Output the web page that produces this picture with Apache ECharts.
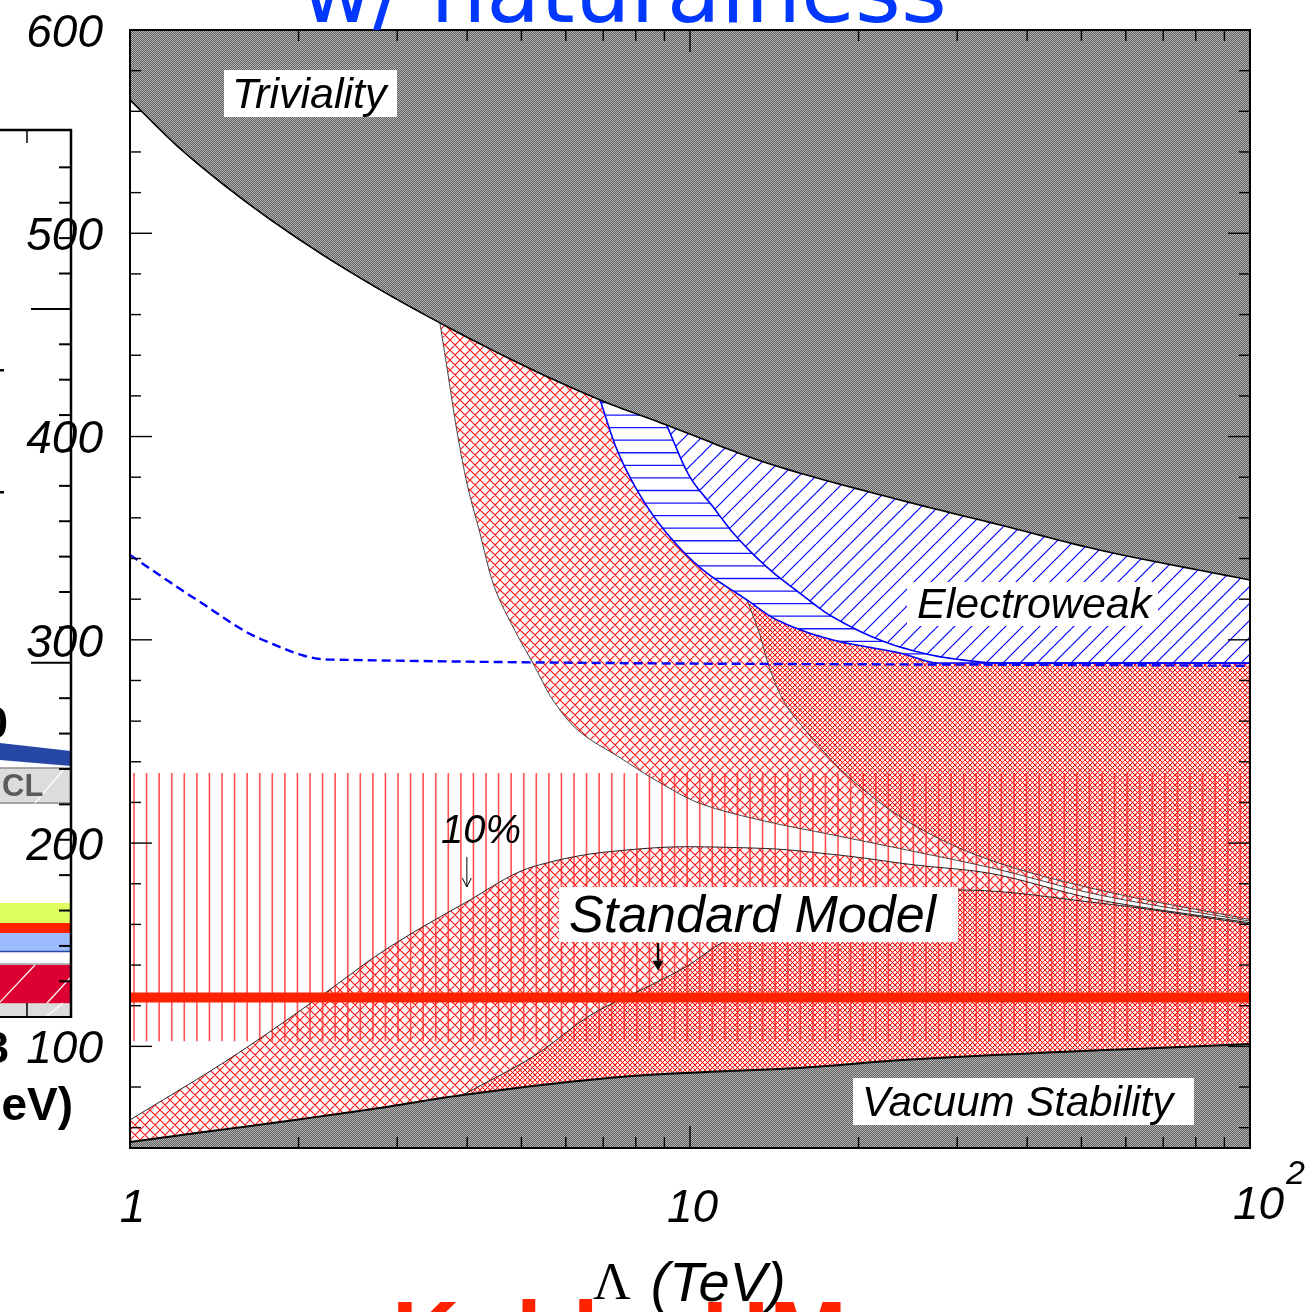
<!DOCTYPE html>
<html>
<head>
<meta charset="utf-8">
<title>Higgs mass bounds vs cutoff scale</title>
<script src="https://cdn.jsdelivr.net/npm/echarts@6.0.0/dist/echarts.min.js"></script>
<style>
  html, body { margin: 0; padding: 0; background: #ffffff; }
  #chart { width: 1310px; height: 1312px; }
</style>
</head>
<body>
<div id="chart"></div>
<script>
// ---- Region boundaries: cutoff scale Λ (TeV) vs Higgs mass (GeV) ----
const trivialityCurve = [[1,565.6],[1.254,539.5],[2.012,496.7],[3.576,455.9],[6.91,418.0],[9.08,405.7],[13.72,387.0],[23.7,368.8],[35.8,356.5],[53.8,344.2],[100,329.4]];
const vacuumCurve = [[1,53.0],[2.276,66.2],[2.792,69.7],[3.93,76.1],[8.38,85.9],[15.7,89.4],[24.0,93.3],[100,101.2]];
const ewInnerCurve = [[6.91,418.0],[7.41,393.4],[8.24,368.8],[9.08,352.6],[10.4,335.8],[12.64,319.6],[14.3,309.8],[18.0,299.9],[23.7,293.5],[27.9,288.6],[100,288.6]];
const ewOuterCurve = [[9.08,405.7],[10.0,380.1],[11.0,365.3],[11.94,352.6],[13.72,335.8],[15.7,323.0],[18.0,311.2],[23.7,296.5],[29.0,291.0],[35.8,288.6],[100,288.6]];
const ewDashedCurve = [[1,341.7],[1.317,319.6],[1.727,299.9],[2.25,290.3],[100,287.2]];
const aLowerCurve = [[3.576,455.9],[3.68,434.2],[3.84,401.8],[3.995,377.2],[4.215,352.6],[4.447,328.0],[4.83,306.3],[5.24,288.6],[5.69,270.4],[6.28,256.0],[7.5,242.0],[8.8,230.0],[10.4,219.6],[13.5,211.0],[18.0,204.0],[25.0,196.0],[34.3,188.0],[53.8,174.5],[100,161.6]];
const bLeftCurve = [[12.64,319.6],[13.29,303.4],[13.85,286.6],[14.66,270.4],[16.05,255.6],[19.47,231.0],[25.4,208.0],[34.3,191.7],[53.8,176.9],[100,162.4]];
const cTopCurve = [[1,63.8],[1.508,94.0],[2.276,128.0],[2.795,145.8],[3.953,170.4],[5.245,188.4],[7.185,195.8],[9.845,198.2],[13.49,197.4],[18.47,194.1],[25.3,189.2],[32.96,185.9],[53.8,172.0],[100,160.8]];
const dTopCurve = [[3.93,76.1],[5.24,94.9],[6.74,116.4],[8.41,129.4],[9.84,139.2],[11.5,151.5],[15.0,164.0],[20.0,172.0],[30.5,176.9],[53.8,170.5],[100,160.2]];
const higgsMass = 124;
const hatchedBand = [102.5, 234.5];
const tenPercentArrow = [[3.995,193.1],[3.995,178.4]];
const smArrow = [[8.77,150.8],[8.77,137.2]];

// ---- Axis ticks ----
const xMajorTicks = [1, 10, 100];
const xMinorTicks = [2,3,4,5,6,7,8,9,20,30,40,50,60,70,80,90];
const yMajorTicks = [100,200,300,400,500,600];
const yMinorTicks = [60,80,120,140,160,180,220,240,260,280,320,340,360,380,420,440,460,480,520,540,560,580];
const X_MIN = 1, X_MAX = 100, Y_MIN = 50, Y_MAX = 600;

// ---- Fill patterns ----
function tile(w, h, paint) {
  const c = document.createElement('canvas');
  c.width = w; c.height = h;
  const g = c.getContext('2d');
  paint(g, w, h);
  return { image: c, repeat: 'repeat' };
}
const grayFill = tile(2, 2, g => {
  g.fillStyle = '#626262'; g.fillRect(0, 0, 2, 2);
  g.fillStyle = '#b2b2b2'; g.fillRect(0, 0, 1, 1); g.fillRect(1, 1, 1, 1);
});
function crossTile(period, color, width, offsets) {
  return tile(period, period, (g, w) => {
    g.strokeStyle = color; g.lineWidth = width;
    g.beginPath();
    for (const o of offsets) {
      for (let k = -w; k <= w; k += w) {
        g.moveTo(k + o, 0); g.lineTo(k + o + w, w);
        g.moveTo(k + o, w); g.lineTo(k + o + w, 0);
      }
    }
    g.stroke();
  });
}
const lightCross = crossTile(10, '#ff0f0f', 1.1, [0]);
const denseCross = crossTile(10, '#ff0f0f', 1.0, [0, 5]);
const STEP = 88 / 7;
const verticalHatch = tile(88, 4, g => {
  g.strokeStyle = 'rgba(255,40,40,0.8)'; g.lineWidth = 1.6;
  g.beginPath();
  for (let i = 0; i < 7; i++) { const x = 8.3 + i * STEP; g.moveTo(x, 0); g.lineTo(x, 4); }
  g.stroke();
});
const horizontalHatch = tile(4, 88, g => {
  g.strokeStyle = '#1414ff'; g.lineWidth = 1.3;
  g.beginPath();
  for (let i = 0; i < 7; i++) {
    for (const s of [-88, 0, 88]) { const y = 0.2 + i * STEP + s; g.moveTo(0, y); g.lineTo(4, y); }
  }
  g.stroke();
});
const diagonalHatch = tile(17, 17, (g, w) => {
  g.strokeStyle = '#0000ff'; g.lineWidth = 1.2;
  g.beginPath();
  for (let k = -w; k <= w; k += w) { g.moveTo(k, w); g.lineTo(k + w, 0); }
  g.stroke();
});

// ---- Smooth drawing of the boundaries (monotone cubic through the points, in pixel space) ----
function smoothPts(api, curveData) {
  const P = curveData.map(p => api.coord(p));
  const n = P.length;
  if (n < 3) return P;
  const h = [], d = [], m = new Array(n);
  for (let i = 0; i < n - 1; i++) { h[i] = P[i + 1][0] - P[i][0]; d[i] = (P[i + 1][1] - P[i][1]) / h[i]; }
  m[0] = d[0]; m[n - 1] = d[n - 2];
  for (let i = 1; i < n - 1; i++) {
    if (d[i - 1] * d[i] <= 0) m[i] = 0;
    else {
      const w1 = 2 * h[i] + h[i - 1], w2 = h[i] + 2 * h[i - 1];
      m[i] = (w1 + w2) / (w1 / d[i - 1] + w2 / d[i]);
    }
  }
  const out = [], S = 12;
  for (let i = 0; i < n - 1; i++) {
    for (let s = 0; s < S; s++) {
      const t = s / S, t2 = t * t, t3 = t2 * t;
      const h00 = 2 * t3 - 3 * t2 + 1, h10 = t3 - 2 * t2 + t, h01 = -2 * t3 + 3 * t2, h11 = t3 - t2;
      out.push([P[i][0] + t * h[i], h00 * P[i][1] + h10 * h[i] * m[i] + h01 * P[i + 1][1] + h11 * h[i] * m[i + 1]]);
    }
  }
  out.push(P[n - 1]);
  return out;
}
const rev = a => a.slice().reverse();
function sub(api, pts, x0, x1) {
  const a = api.coord([x0, Y_MIN])[0] - 0.01, b = api.coord([x1, Y_MIN])[0] + 0.01;
  return pts.filter(p => p[0] >= a && p[0] <= b);
}

// ---- Region outlines ----
const regions = {
  triviality: api => smoothPts(api, trivialityCurve).concat([api.coord([X_MAX, Y_MAX]), api.coord([X_MIN, Y_MAX])]),
  vacuum: api => smoothPts(api, vacuumCurve).concat([api.coord([X_MAX, Y_MIN]), api.coord([X_MIN, Y_MIN])]),
  a: api => smoothPts(api, aLowerCurve).concat(rev(smoothPts(api, ewInnerCurve)), rev(sub(api, smoothPts(api, trivialityCurve), 3.576, 6.91))),
  b: api => smoothPts(api, bLeftCurve).concat(rev(sub(api, smoothPts(api, ewInnerCurve), 12.64, 100))),
  ewBand: api => smoothPts(api, ewInnerCurve).concat(rev(smoothPts(api, ewOuterCurve)), rev(sub(api, smoothPts(api, trivialityCurve), 6.91, 9.08))),
  ewDiag: api => smoothPts(api, ewOuterCurve).concat(rev(sub(api, smoothPts(api, trivialityCurve), 9.08, 100))),
  c: api => smoothPts(api, vacuumCurve).concat(rev(smoothPts(api, cTopCurve))),
  d: api => sub(api, smoothPts(api, vacuumCurve), 3.93, 100).concat(rev(smoothPts(api, dTopCurve))),
  band: api => [[X_MIN, hatchedBand[0]], [X_MAX, hatchedBand[0]], [X_MAX, hatchedBand[1]], [X_MIN, hatchedBand[1]]].map(p => api.coord(p))
};

function area(build, fill) {
  return {
    type: 'custom', coordinateSystem: 'cartesian2d', silent: true, clip: true,
    data: [[X_MIN, Y_MIN]],
    renderItem: (params, api) => ({ type: 'polygon', shape: { points: build(api) }, style: { fill: fill, stroke: null } })
  };
}
function curve(points, stroke, width, dash) {
  return {
    type: 'custom', coordinateSystem: 'cartesian2d', silent: true, clip: true,
    data: [[X_MIN, Y_MIN]],
    renderItem: (params, api) => ({
      type: 'polyline',
      shape: { points: smoothPts(api, points) },
      style: { stroke: stroke, lineWidth: width, lineDash: dash || null, fill: null, lineCap: 'butt', lineJoin: 'round' }
    })
  };
}
function arrow(points, width, head, solid) {
  return {
    type: 'custom', coordinateSystem: 'cartesian2d', silent: true, z: 12,
    data: [[X_MIN, Y_MIN]],
    renderItem: (params, api) => {
      const a = api.coord(points[0]), b = api.coord(points[1]);
      const shaft = { type: 'line', shape: { x1: a[0], y1: a[1], x2: b[0], y2: solid ? b[1] - head : b[1] }, style: { stroke: '#000', lineWidth: width } };
      const tip = solid
        ? { type: 'polygon', shape: { points: [[b[0] - head * 0.55, b[1] - head], [b[0] + head * 0.55, b[1] - head], [b[0], b[1]]] }, style: { fill: '#000' } }
        : { type: 'polyline', shape: { points: [[b[0] - head * 0.5, b[1] - head], [b[0], b[1]], [b[0] + head * 0.5, b[1] - head]] }, style: { stroke: '#000', lineWidth: width, fill: null } };
      return { type: 'group', children: [shaft, tip] };
    }
  };
}
const frameSeries = {
  type: 'custom', coordinateSystem: 'cartesian2d', silent: true, z: 20,
  data: [[X_MIN, Y_MIN]],
  renderItem: (params, api) => {
    const ch = [];
    const seg = (x1, y1, x2, y2) => ch.push({ type: 'line', shape: { x1, y1, x2, y2 }, style: { stroke: '#000', lineWidth: 1.4 } });
    const [left, bottom] = api.coord([X_MIN, Y_MIN]);
    const [right, top] = api.coord([X_MAX, Y_MAX]);
    yMajorTicks.forEach(v => { const y = api.coord([X_MIN, v])[1]; seg(left, y, left + 22, y); seg(right, y, right - 22, y); });
    yMinorTicks.forEach(v => { const y = api.coord([X_MIN, v])[1]; seg(left, y, left + 11, y); seg(right, y, right - 11, y); });
    xMajorTicks.forEach(v => { const x = api.coord([v, Y_MIN])[0]; seg(x, bottom, x, bottom - 22); seg(x, top, x, top + 22); });
    xMinorTicks.forEach(v => { const x = api.coord([v, Y_MIN])[0]; seg(x, bottom, x, bottom - 11); seg(x, top, x, top + 11); });
    ch.push({ type: 'rect', shape: { x: left, y: top, width: right - left, height: bottom - top }, style: { fill: null, stroke: '#000', lineWidth: 2 } });
    return { type: 'group', children: ch };
  }
};

const series = [
  area(regions.c, lightCross),
  area(regions.d, denseCross),
  area(regions.a, lightCross),
  area(regions.b, denseCross),
  area(regions.band, verticalHatch),
  area(regions.ewBand, horizontalHatch),
  area(regions.ewDiag, diagonalHatch),
  area(regions.triviality, grayFill),
  area(regions.vacuum, grayFill),
  curve(aLowerCurve, '#444', 1),
  curve(bLeftCurve, '#444', 1),
  curve(cTopCurve, '#222', 1),
  curve(dTopCurve, '#222', 1),
  curve(ewInnerCurve, '#0000ff', 1.6),
  curve(ewOuterCurve, '#0000ff', 1.6),
  curve(ewDashedCurve, '#0000ff', 2.4, [9, 5]),
  curve(trivialityCurve, '#000', 1.6),
  curve(vacuumCurve, '#000', 2),
  curve([[X_MIN, higgsMass], [X_MAX, higgsMass]], '#ff2200', 10),
  arrow(tenPercentArrow, 1, 9, false),
  arrow(smArrow, 2.5, 10, true),
  frameSeries
];

// ---- Text annotations and the edge of the neighbouring panel ----
const ital = (size) => 'italic ' + size + 'px "Liberation Sans"';
function boxedLabel(text, x, y, w, h, tx, ty, size) {
  return [
    { type: 'rect', z: 50, shape: { x: x, y: y, width: w, height: h }, style: { fill: '#fff' } },
    { type: 'text', z: 51, x: tx, y: ty, style: { text: text, font: ital(size), fill: '#000', verticalAlign: 'middle', align: 'left' } }
  ];
}
const panelTicks = [];
for (let i = 1; i < 25; i++) {
  const y = 1016.7 - i * 35.39;
  const len = (i % 10 === 0) ? 40 : 12;
  panelTicks.push({ type: 'line', z: 40, shape: { x1: 71, y1: y, x2: 71 - len, y2: y }, style: { stroke: '#000', lineWidth: 2 } });
}
const sidePanel = [
  { type: 'polygon', z: 39, shape: { points: [[0, 743], [71, 751], [71, 766], [0, 760]] }, style: { fill: '#2747a6' } },
  { type: 'rect', z: 39, shape: { x: -2, y: 768, width: 73, height: 35 }, style: { fill: '#dcdcdc', stroke: '#8c8c8c', lineWidth: 1.5 } },
  { type: 'line', z: 39, shape: { x1: 35, y1: 803, x2: 65, y2: 768 }, style: { stroke: '#fff', lineWidth: 1.2 } },
  { type: 'text', z: 40, x: 2, y: 787, style: { text: 'CL', font: 'bold 31px "Liberation Sans"', fill: '#5c5c5c', verticalAlign: 'middle' } },
  { type: 'rect', z: 39, shape: { x: 0, y: 903, width: 71, height: 20.5 }, style: { fill: '#ddff60' } },
  { type: 'rect', z: 39, shape: { x: 0, y: 923, width: 71, height: 10.5 }, style: { fill: '#ff2200' } },
  { type: 'rect', z: 39, shape: { x: 0, y: 933, width: 71, height: 18.5 }, style: { fill: '#9cbcff' } },
  { type: 'line', z: 39, shape: { x1: 0, y1: 951.5, x2: 71, y2: 951.5 }, style: { stroke: '#2a48a8', lineWidth: 1.5 } },
  { type: 'line', z: 39, shape: { x1: 0, y1: 964, x2: 71, y2: 964 }, style: { stroke: '#9a9a9a', lineWidth: 1.5 } },
  { type: 'rect', z: 39, shape: { x: 0, y: 965, width: 71, height: 38.5 }, style: { fill: '#dc0033' } },
  { type: 'line', z: 39, shape: { x1: 0, y1: 1002, x2: 35, y2: 965 }, style: { stroke: '#fff', lineWidth: 1.2 } },
  { type: 'line', z: 39, shape: { x1: 47, y1: 1003, x2: 71, y2: 977 }, style: { stroke: '#fff', lineWidth: 1.2 } },
  { type: 'rect', z: 39, shape: { x: 0, y: 1003.5, width: 71, height: 13 }, style: { fill: '#dcdcdc' } },
  { type: 'line', z: 39, shape: { x1: 47, y1: 1016, x2: 63, y2: 1003 }, style: { stroke: '#fff', lineWidth: 1.2 } },
  { type: 'line', z: 40, shape: { x1: 27, y1: 1003, x2: 27, y2: 1017 }, style: { stroke: '#000', lineWidth: 1.5 } },
  { type: 'line', z: 40, shape: { x1: 27, y1: 130, x2: 27, y2: 143 }, style: { stroke: '#000', lineWidth: 1.5 } },
  { type: 'line', z: 40, shape: { x1: 71, y1: 129, x2: 71, y2: 1018 }, style: { stroke: '#000', lineWidth: 2.5 } },
  { type: 'line', z: 40, shape: { x1: 0, y1: 130, x2: 72, y2: 130 }, style: { stroke: '#000', lineWidth: 2.5 } },
  { type: 'line', z: 40, shape: { x1: 0, y1: 1017, x2: 72, y2: 1017 }, style: { stroke: '#000', lineWidth: 2 } },
  { type: 'text', z: 40, x: 8, y: 726, style: { text: '0', font: 'bold 44px "Liberation Sans"', fill: '#000', align: 'right', verticalAlign: 'middle' } },
  { type: 'text', z: 40, x: 9, y: 1051, style: { text: '3', font: 'bold 44px "Liberation Sans"', fill: '#000', align: 'right', verticalAlign: 'middle' } },
  { type: 'text', z: 40, x: 73, y: 1107, style: { text: '(GeV)', font: 'bold 46px "Liberation Sans"', fill: '#000', align: 'right', verticalAlign: 'middle' } },
  { type: 'rect', z: 40, shape: { x: 0, y: 369, width: 4, height: 2.5 }, style: { fill: '#000' } },
  { type: 'rect', z: 40, shape: { x: 0, y: 491, width: 4, height: 2.5 }, style: { fill: '#000' } }
].concat(panelTicks);

const annotations = [].concat(
  boxedLabel('Triviality', 224, 70, 173, 47, 232, 96.5, 43),
  boxedLabel('Electroweak', 907, 582, 251, 44, 917, 606, 43),
  boxedLabel('Standard Model', 559, 887, 399, 55, 569, 918, 52),
  boxedLabel('Vacuum Stability', 853, 1078, 341, 47, 862, 1104, 42),
  [
    { type: 'text', z: 51, x: 441, y: 832, style: { text: '10%', font: ital(40), fill: '#000', verticalAlign: 'middle' } },
    { type: 'text', z: 60, x: 301, y: -1, style: { text: 'w/ naturalness', font: '88px "DejaVu Sans"', fill: '#0038ff', verticalAlign: 'middle' } },
    { type: 'text', z: 60, x: 392, y: 1340, style: { text: 'Kolda, HM', font: 'bold 93px "Liberation Sans"', fill: '#ff2200', verticalAlign: 'middle' } },
    { type: 'text', z: 60, x: 593, y: 1285, style: {
        text: '{l|Λ}{t|(TeV)}', verticalAlign: 'middle',
        rich: { l: { font: '52px "Liberation Serif"', fill: '#000', padding: [0, 20, 0, 0] }, t: { font: ital(56), fill: '#000' } }
    } }
  ],
  sidePanel
);

const chart = echarts.init(document.getElementById('chart'), null, { renderer: 'canvas' });
chart.setOption({
  animation: false,
  backgroundColor: '#fff',
  grid: { left: 130, top: 30, width: 1120, height: 1118, show: false },
  xAxis: {
    type: 'log', logBase: 10, min: X_MIN, max: X_MAX,
    axisLine: { show: false }, axisTick: { show: false }, splitLine: { show: false },
    axisLabel: {
      margin: 38, color: '#000', fontSize: 46, fontStyle: 'italic', fontFamily: 'Liberation Sans',
      formatter: v => { const r = Math.round(v); return r === 100 ? '' : '{v|' + r + '}'; },
      rich: { v: { fontSize: 46, fontStyle: 'italic', fontFamily: 'Liberation Sans', color: '#000', padding: [0, 0, 0, 5] } }
    }
  },
  yAxis: {
    type: 'value', min: Y_MIN, max: Y_MAX, interval: 50,
    axisLine: { show: false }, axisTick: { show: false }, splitLine: { show: false },
    axisLabel: {
      margin: 27, color: '#000', fontSize: 46, fontStyle: 'italic', fontFamily: 'Liberation Sans',
      formatter: v => (v % 100 === 0 ? '{v|' + v + '}' : ''),
      rich: { v: { fontSize: 46, fontStyle: 'italic', fontFamily: 'Liberation Sans', color: '#000', padding: [8, 0, 0, 0] } }
    }
  },
  series: series,
  graphic: { elements: annotations }
});

// Upper end of the log axis written as a power of ten
const p100 = chart.convertToPixel({ gridIndex: 0 }, [X_MAX, Y_MIN]);
chart.setOption({
  graphic: { elements: annotations.concat([
    { type: 'text', z: 60, x: p100[0] - 17, y: p100[1] + 58, style: { text: '10', font: ital(46), fill: '#000', verticalAlign: 'middle' } },
    { type: 'text', z: 60, x: p100[0] + 36, y: p100[1] + 27, style: { text: '2', font: ital(34), fill: '#000', verticalAlign: 'middle' } }
  ]) }
}, { replaceMerge: ['graphic'] });
</script>
</body>
</html>
